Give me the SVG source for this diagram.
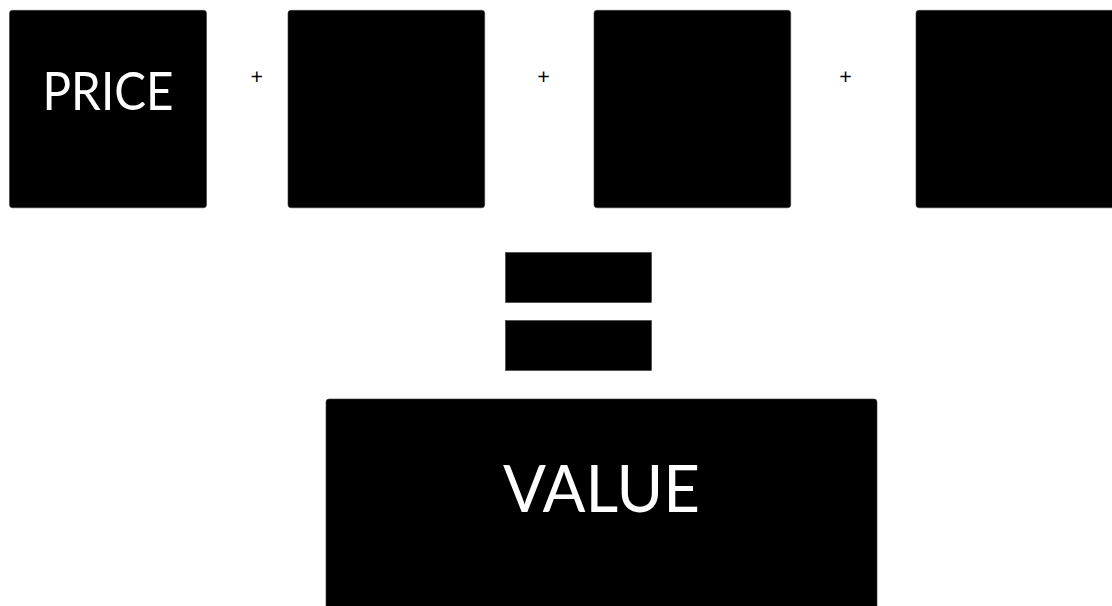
<svg xmlns="http://www.w3.org/2000/svg" width="1112" height="606" viewBox="0 0 1112 606">
<style>
.box{fill:#000;stroke:#3a3a3a;stroke-width:0.6}
.lbl{fill:#fff;font-family:Lato,"Open Sans","Liberation Sans",sans-serif;text-anchor:middle}
.op{fill:#000;font-family:"Open Sans","Liberation Sans",sans-serif;font-size:22px;text-anchor:middle}
</style>
<rect width="1112" height="606" fill="#fff"/>
<g id="price">
<rect class="box" x="9.5" y="10.3" width="197" height="197.5" rx="3"/>
<text class="lbl" x="108" y="110" font-size="53" textLength="131" lengthAdjust="spacingAndGlyphs">PRICE</text>
</g>
<g id="box2"><rect class="box" x="288" y="10.3" width="196.7" height="197.5" rx="3"/></g>
<g id="box3"><rect class="box" x="594" y="10.3" width="196.7" height="197.5" rx="3"/></g>
<g id="box4"><rect class="box" x="916" y="10.3" width="200" height="197.5" rx="3"/></g>
<g id="operators">
<text class="op" x="256.7" y="83.5">+</text>
<text class="op" x="543.5" y="83.5">+</text>
<text class="op" x="845.5" y="83.5">+</text>
</g>
<g id="equals">
<rect class="box" x="505.5" y="252.5" width="146" height="50"/>
<rect class="box" x="505.5" y="320.5" width="146" height="50"/>
</g>
<g id="value">
<rect class="box" x="326" y="399" width="551" height="215" rx="3"/>
<text class="lbl" x="601.5" y="512" font-size="66" textLength="197" lengthAdjust="spacingAndGlyphs">VALUE</text>
</g>
<g id="connectors"/>
</svg>
